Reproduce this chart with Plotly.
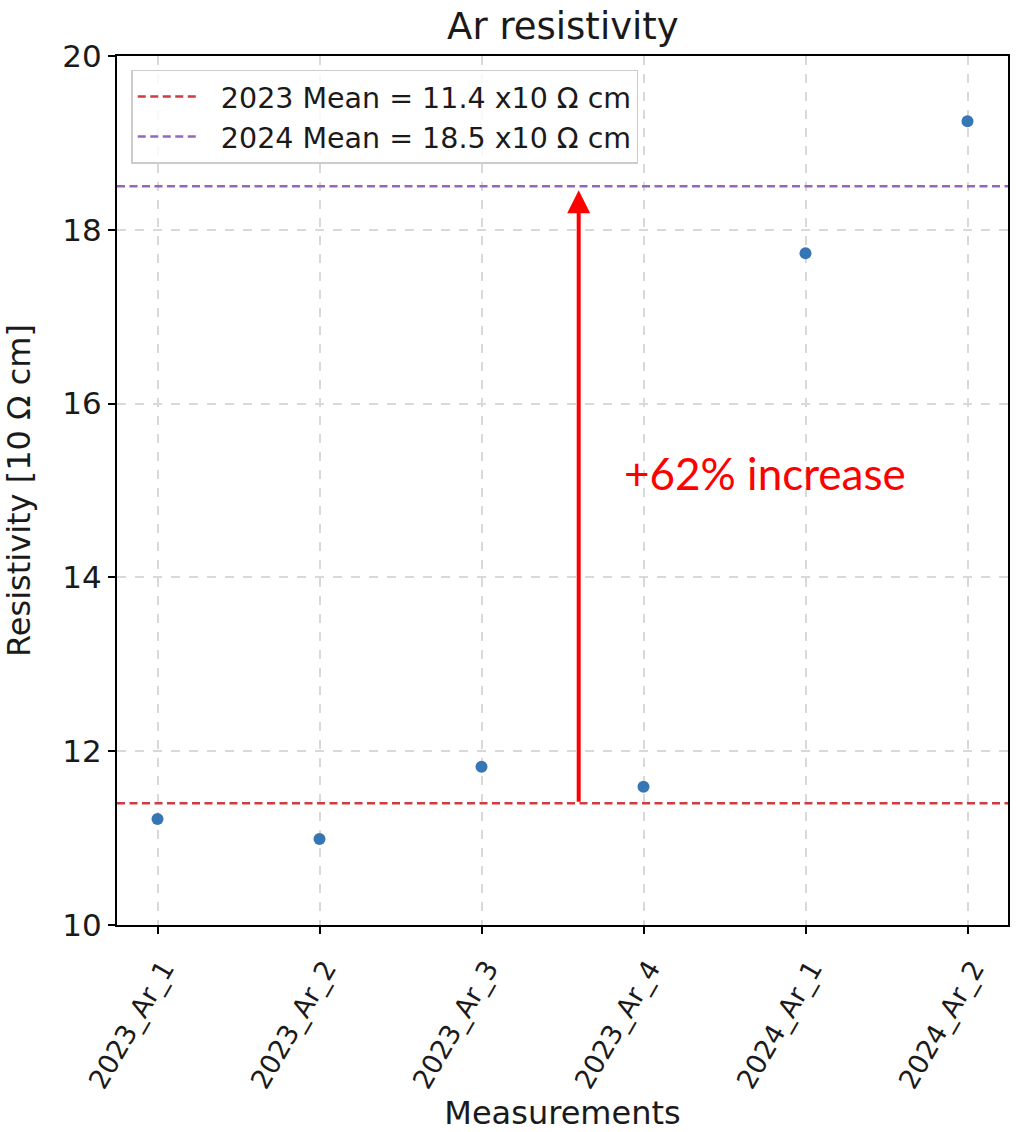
import plotly.graph_objects as go

# Measurement labels and resistivity values (units of 10 Ω cm)
measurements = ["2023_Ar_1", "2023_Ar_2", "2023_Ar_3", "2023_Ar_4", "2024_Ar_1", "2024_Ar_2"]
resistivity = [11.22, 10.99, 11.82, 11.59, 17.73, 19.25]

mean_2023 = 11.4
mean_2024 = 18.5
increase_label = "+62% increase"

y_ticks = [10, 12, 14, 16, 18, 20]

x_pos = list(range(len(measurements)))
x_lo, x_hi = -0.25, len(measurements) - 0.75

FONT = "DejaVu Sans"
GAP = "\u00a0\u00a0"  # gap between legend line sample and text

fig = go.Figure()

fig.add_trace(go.Scatter(
    x=[x_lo, x_hi], y=[mean_2023, mean_2023], mode="lines",
    line=dict(color="#cf3b40", width=2.5, dash="8px,4.5px"),
    name=f"{GAP}2023 Mean = {mean_2023} x10 Ω cm",
))
fig.add_trace(go.Scatter(
    x=[x_lo, x_hi], y=[mean_2024, mean_2024], mode="lines",
    line=dict(color="#9467bd", width=2.5, dash="8px,4.5px"),
    name=f"{GAP}2024 Mean = {mean_2024} x10 Ω cm",
))
fig.add_trace(go.Scatter(
    x=x_pos, y=resistivity, mode="markers",
    marker=dict(color="#3776b4", size=12, line=dict(width=0)),
    showlegend=False,
))

# Arrow from the 2023 mean up to the 2024 mean
arrow_x = 2.6
fig.add_annotation(
    x=arrow_x, y=mean_2024, ax=arrow_x, ay=mean_2023,
    xref="x", yref="y", axref="x", ayref="y",
    text="", showarrow=True, arrowhead=2, arrowwidth=4, arrowsize=1.15,
    arrowcolor="#ff0000", standoff=4,
)
fig.add_annotation(
    x=3.75, y=15.2, xref="x", yref="y", text=increase_label, showarrow=False,
    font=dict(family="Lato", size=44, color="#ff0000"),
)

axis_common = dict(
    showline=True, linecolor="black", linewidth=2, mirror=True,
    ticks="outside", ticklen=7, tickwidth=2, tickcolor="black",
    showgrid=True, gridcolor="#d9d9d9", gridwidth=1.5, griddash="dash",
    zeroline=False,
)

fig.update_xaxes(
    range=[x_lo, x_hi], tickvals=x_pos, ticktext=measurements, tickangle=-60,
    ticklabelstandoff=8, ticklabelshift=6,
    tickfont=dict(family=FONT, size=27, color="#1a1a1a"),
    title=dict(text="Measurements", font=dict(family=FONT, size=32, color="#1a1a1a"), standoff=8),
    **axis_common,
)
fig.update_yaxes(
    range=[10, 20], tickvals=y_ticks,
    tickfont=dict(family=FONT, size=31, color="#1a1a1a"),
    title=dict(text="Resistivity [10 Ω cm]", font=dict(family=FONT, size=32, color="#1a1a1a"), standoff=22),
    **axis_common,
)

fig.update_layout(
    width=1031, height=1132,
    margin=dict(l=117, r=23, t=56, b=207, autoexpand=False),
    paper_bgcolor="white", plot_bgcolor="white",
    title=dict(text="Ar resistivity", x=0.546, xanchor="center", y=1 - 26 / 1132,
               yanchor="middle", font=dict(family=FONT, size=37, color="#1a1a1a")),
    legend=dict(
        x=0.016, y=0.984, xanchor="left", yanchor="top",
        bgcolor="rgba(255,255,255,0.8)", bordercolor="#cccccc", borderwidth=1.5,
        font=dict(family=FONT, size=28.5, color="#1a1a1a"),
        itemwidth=60, tracegroupgap=0,
    ),
)

fig.write_html("out.html")
